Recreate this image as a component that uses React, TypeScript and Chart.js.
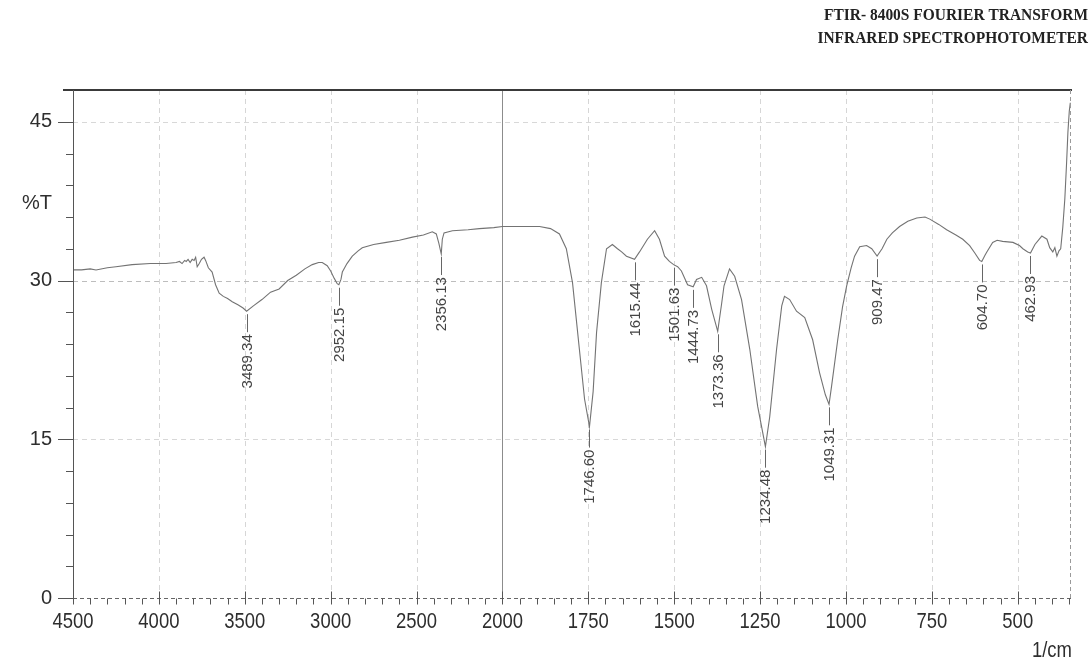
import React, { useEffect, useRef } from 'react';
import { Chart, registerables, LinearScale } from 'chart.js';

// ---------- data ----------
const wavenumbers = [
  4500, 4450, 4400, 4366, 4300, 4250, 4156, 4050, 3958, 3900, 3880, 3865, 3850, 3841, 3830, 3818, 3806, 3795, 3786, 3777,
  3765, 3752, 3737, 3728, 3712, 3690, 3670, 3649, 3625, 3600, 3573, 3540, 3510, 3489.34, 3450, 3400, 3350, 3300, 3250, 3200,
  3150, 3107, 3070, 3049, 3020, 3000, 2979, 2962, 2952.15, 2940, 2932, 2905, 2874, 2840, 2816, 2750, 2676, 2600, 2524, 2460,
  2408, 2385, 2370, 2356.13, 2350, 2340, 2291, 2200, 2134, 2050, 2000, 1950, 1892, 1860, 1834, 1814, 1796, 1776, 1761, 1746.6,
  1736, 1726, 1712, 1697, 1680, 1665, 1653, 1639, 1615.44, 1601, 1578, 1557, 1543, 1528, 1514, 1501.63, 1490, 1479, 1461, 1444.73,
  1435, 1420, 1406, 1391, 1373.36, 1362, 1355, 1339, 1324, 1304, 1280, 1257, 1234.48, 1222, 1202, 1187, 1179, 1164, 1144, 1120,
  1097, 1077, 1060, 1049.31, 1042, 1024, 1010, 998, 985, 975, 960, 940, 925, 909.47, 895, 881, 865, 844, 820, 794,
  770, 756, 730, 707, 680, 660, 640, 625, 611, 604.7, 595, 590, 573, 560, 544, 514, 495, 485, 471, 462.93,
  450, 430, 415, 407, 398, 392, 386, 380, 375, 369, 363, 358, 354, 350, 347,
];
const transmittance = [
  31.0, 31.0, 31.1, 31.0, 31.2, 31.3, 31.5, 31.6, 31.6, 31.7, 31.8, 31.6, 31.9, 31.8, 32.0, 31.7, 32.0, 31.9, 32.2, 31.3,
  31.6, 32.0, 32.2, 31.9, 31.2, 30.8, 29.6, 28.8, 28.5, 28.3, 28.0, 27.7, 27.4, 27.1, 27.6, 28.2, 28.9, 29.2, 30.0, 30.5,
  31.1, 31.5, 31.7, 31.7, 31.4, 30.9, 30.2, 29.7, 29.6, 30.1, 30.8, 31.6, 32.3, 32.8, 33.1, 33.4, 33.6, 33.8, 34.1, 34.3,
  34.6, 34.4, 33.5, 32.5, 33.9, 34.5, 34.7, 34.8, 34.9, 35.0, 35.1, 35.1, 35.1, 34.9, 34.4, 33.0, 29.8, 23.5, 18.8, 16.2,
  19.5, 25.1, 29.8, 33.0, 33.4, 33.0, 32.7, 32.3, 32.0, 32.7, 33.9, 34.7, 33.9, 32.3, 31.8, 31.5, 31.3, 30.9, 29.6, 29.4,
  30.1, 30.3, 29.5, 27.3, 25.2, 27.8, 29.5, 31.1, 30.4, 28.2, 23.5, 18.1, 14.3, 17.1, 23.5, 27.6, 28.5, 28.2, 27.1, 26.5,
  24.4, 21.3, 19.2, 18.3, 20.0, 24.4, 27.5, 29.5, 31.2, 32.3, 33.2, 33.3, 33.0, 32.3, 33.0, 33.9, 34.5, 35.1, 35.6, 35.9,
  36.0, 35.8, 35.3, 34.8, 34.3, 33.9, 33.3, 32.6, 31.9, 31.8, 32.4, 32.7, 33.6, 33.8, 33.7, 33.6, 33.3, 33.0, 32.7, 32.6,
  33.4, 34.2, 33.9, 33.1, 32.7, 33.1, 32.3, 32.8, 33.0, 35.0, 37.7, 41.0, 44.0, 46.0, 46.8,
];
const peakWavenumbers = [3489.34, 2952.15, 2356.13, 1746.6, 1615.44, 1501.63, 1444.73, 1373.36, 1234.48, 1049.31, 909.47, 604.7, 462.93];
const xMajorTicks = [4500, 4000, 3500, 3000, 2500, 2000, 1750, 1500, 1250, 1000, 750, 500];
const yMajorTicks = [0, 15, 30, 45];
const titleLines = ['FTIR- 8400S FOURIER TRANSFORM', 'INFRARED SPECTROPHOTOMETER'];
const yAxisTitle = '%T';
const xAxisTitle = '1/cm';

const X_MIN = 345;
const X_MAX = 4500;
const Y_MIN = 0;
const Y_MAX = 48;
const SPLIT = 2000; // scale changes (x2 expansion) below 2000 1/cm

// ---------- custom FTIR axis: linear, with the region below 2000 expanded 2x ----------
function warp(v: number) { return v >= SPLIT ? v : 2 * v - SPLIT; }
function unwarp(t: number) { return t >= SPLIT ? t : (t + SPLIT) / 2; }

class FtirScale extends LinearScale {
  static id = 'ftir';
  static defaults = {};
  getPixelForValue(value: any) {
    if (value === null || value === undefined || isNaN(value)) return NaN;
    const a = warp(this.min), b = warp(this.max);
    return this.getPixelForDecimal((warp(value) - a) / (b - a));
  }
  getValueForPixel(pixel: number) {
    const a = warp(this.min), b = warp(this.max);
    return unwarp(a + this.getDecimalForPixel(pixel) * (b - a));
  }
}

Chart.register(...registerables, FtirScale as any);

const SANS = "'Liberation Sans', Arial, sans-serif";
const NARROW_SQUEEZE = 0.84;

function narrowText(ctx: CanvasRenderingContext2D, text: string, x: number, y: number, align: CanvasTextAlign) {
  ctx.save();
  ctx.translate(x, y);
  ctx.scale(NARROW_SQUEEZE, 1);
  ctx.textAlign = align;
  ctx.textBaseline = 'middle';
  ctx.fillText(text, 0, 0);
  ctx.restore();
}

const decor = {
  id: 'ftirDecor',
  beforeDatasetsDraw(chart: any) {
    const { ctx, chartArea: ca, scales } = chart;
    const x = scales.x, y = scales.y;
    ctx.save();
    ctx.lineWidth = 1;
    xMajorTicks.forEach((v) => {
      if (v === X_MAX) return;
      const px = Math.round(x.getPixelForValue(v)) + 0.5;
      if (v === SPLIT) { ctx.setLineDash([]); ctx.strokeStyle = '#8c8c8c'; }
      else { ctx.setLineDash([5, 4]); ctx.strokeStyle = '#d6d6d6'; }
      ctx.beginPath(); ctx.moveTo(px, ca.top); ctx.lineTo(px, ca.bottom); ctx.stroke();
    });
    yMajorTicks.forEach((v) => {
      if (v === Y_MIN) return;
      const py = Math.round(y.getPixelForValue(v)) + 0.5;
      ctx.setLineDash([5, 4]); ctx.strokeStyle = v === 30 ? '#bdbdbd' : '#d8d8d8';
      ctx.beginPath(); ctx.moveTo(ca.left, py); ctx.lineTo(ca.right, py); ctx.stroke();
    });
    ctx.restore();
  },
  afterDatasetsDraw(chart: any) {
    const { ctx, chartArea: ca, scales } = chart;
    const x = scales.x, y = scales.y;
    ctx.save();
    // frame
    ctx.setLineDash([]);
    ctx.strokeStyle = '#3a3a3a'; ctx.lineWidth = 2;
    ctx.beginPath(); ctx.moveTo(ca.left - 10, ca.top); ctx.lineTo(ca.right + 1, ca.top); ctx.stroke();
    ctx.strokeStyle = '#555'; ctx.lineWidth = 1;
    ctx.beginPath(); ctx.moveTo(ca.left + 0.5, ca.top); ctx.lineTo(ca.left + 0.5, ca.bottom + 4); ctx.stroke();
    ctx.setLineDash([4, 3]); ctx.strokeStyle = '#9a9a9a';
    ctx.beginPath(); ctx.moveTo(ca.right - 0.5, ca.top); ctx.lineTo(ca.right - 0.5, ca.bottom); ctx.stroke();
    ctx.strokeStyle = '#666';
    const by = Math.round(ca.bottom) + 0.5;
    ctx.beginPath(); ctx.moveTo(ca.left - 14, by); ctx.lineTo(ca.right, by); ctx.stroke();
    ctx.setLineDash([]);
    // x ticks
    ctx.strokeStyle = '#555';
    for (let v = X_MAX; v >= X_MIN; v -= v > SPLIT ? 100 : 50) {
      const px = Math.round(x.getPixelForValue(v)) + 0.5;
      const major = xMajorTicks.includes(v);
      ctx.beginPath();
      ctx.moveTo(px, major ? by - 7 : by);
      ctx.lineTo(px, by + 6);
      ctx.stroke();
    }
    // x tick labels (condensed, like the instrument print-out)
    ctx.fillStyle = '#2e2e2e';
    ctx.font = `22px ${SANS}`;
    xMajorTicks.forEach((v) => {
      narrowText(ctx, String(v), x.getPixelForValue(v), ca.bottom + 24, 'center');
    });
    narrowText(ctx, xAxisTitle, ca.right + 1, 651, 'right');
    // y ticks
    for (let v = Y_MIN; v <= 45; v += 3) {
      const py = Math.round(y.getPixelForValue(v)) + 0.5;
      const major = yMajorTicks.includes(v);
      ctx.beginPath(); ctx.moveTo(ca.left - (major ? 15 : 7), py); ctx.lineTo(ca.left, py); ctx.stroke();
    }
    // peak labels
    ctx.strokeStyle = '#666'; ctx.fillStyle = '#444';
    ctx.font = `15px ${SANS}`;
    peakWavenumbers.forEach((w) => {
      const idx = wavenumbers.indexOf(w);
      const px = x.getPixelForValue(w);
      const py = y.getPixelForValue(transmittance[idx]);
      const lx = Math.round(px) + 0.5;
      ctx.beginPath(); ctx.moveTo(lx, py + 3); ctx.lineTo(lx, py + 21); ctx.stroke();
      ctx.save();
      ctx.translate(lx, py + 23);
      ctx.rotate(-Math.PI / 2);
      ctx.textAlign = 'right'; ctx.textBaseline = 'middle';
      ctx.fillText(w.toFixed(2), 0, 0);
      ctx.restore();
    });
    // y axis title
    ctx.fillStyle = '#2e2e2e';
    ctx.font = `20px ${SANS}`;
    ctx.textAlign = 'right'; ctx.textBaseline = 'middle';
    ctx.fillText(yAxisTitle, ca.left - 21, 203);
    // instrument title
    ctx.fillStyle = '#222';
    ctx.font = `bold 16px 'Liberation Serif', 'Times New Roman', serif`;
    const targetW = 264;
    const sx = targetW / ctx.measureText(titleLines[0]).width;
    titleLines.forEach((t, i) => {
      ctx.save();
      ctx.translate(1088, 16 + i * 23);
      ctx.scale(Math.min(1, sx), 1);
      ctx.textAlign = 'right'; ctx.textBaseline = 'middle';
      ctx.fillText(t, 0, 0);
      ctx.restore();
    });
    ctx.restore();
  },
};

export default function App() {
  const ref = useRef<HTMLCanvasElement | null>(null);
  useEffect(() => {
    document.body.style.margin = '0';
    document.body.style.background = '#ffffff';
    const canvas = ref.current;
    if (!canvas) return;
    const chart = new Chart(canvas, {
      type: 'line',
      data: {
        datasets: [{
          data: wavenumbers.map((w, i) => ({ x: w, y: transmittance[i] })),
          borderColor: '#737373',
          borderWidth: 1.1,
          pointRadius: 0,
          tension: 0,
          fill: false,
        }],
      },
      options: {
        animation: false,
        responsive: true,
        maintainAspectRatio: false,
        layout: { padding: { top: 90, right: 21, left: 0, bottom: 0 } },
        plugins: { legend: { display: false }, tooltip: { enabled: false }, title: { display: false } },
        scales: {
          x: {
            type: 'ftir' as any,
            min: X_MIN,
            max: X_MAX,
            reverse: true,
            afterBuildTicks: (s: any) => { s.ticks = xMajorTicks.map((v) => ({ value: v })); },
            afterFit: (s: any) => { s.height = 62; },
            grid: { display: false, drawTicks: false },
            border: { display: false },
            ticks: { display: false },
          },
          y: {
            min: Y_MIN,
            max: Y_MAX,
            afterBuildTicks: (s: any) => { s.ticks = yMajorTicks.map((v) => ({ value: v })); },
            afterFit: (s: any) => { s.width = 73; },
            grid: { display: false, drawTicks: false },
            border: { display: false },
            ticks: {
              padding: 21, color: '#2e2e2e', font: { family: SANS, size: 20 },
              callback: (v: any) => String(v),
            },
          },
        },
      } as any,
      plugins: [decor],
    });
    return () => chart.destroy();
  }, []);
  return (
    <div style={{ position: 'relative', width: 1092, height: 660 }}>
      <canvas ref={ref} />
    </div>
  );
}
